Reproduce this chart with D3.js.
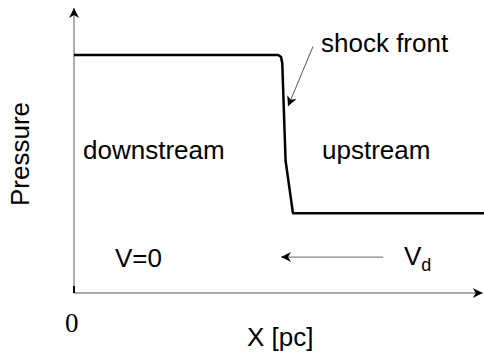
<!DOCTYPE html>
<html>
<head>
<meta charset="utf-8">
<script src="https://cdn.jsdelivr.net/npm/d3@7"></script>
<style>
  body { margin: 0; background: #fff; }
  text { font-family: "Liberation Sans", Arial, sans-serif; fill: #000; }
</style>
</head>
<body>
<div id="chart"></div>
<script>
// pressure profile across the shock (x in arbitrary pc units, p in arbitrary units)
const profileX = [0, 49.8, 50.5, 50.8, 51.6, 53.4, 100];
const profileP = [8.35, 8.35, 8.28, 8.05, 4.65, 2.8, 2.8];

const labels = ["shock front", "downstream", "upstream", "V=0", "X [pc]", "Pressure"];

const width = 484, height = 362;

const svg = d3.select("#chart")
    .append("svg")
    .attr("width", width)
    .attr("height", height);

const x = d3.scaleLinear().domain([0, 100]).range([74, 484]);
const y = d3.scaleLinear().domain([0, 10]).range([293, 8]);

const defs = svg.append("defs");
defs.append("marker")
    .attr("id", "head")
    .attr("viewBox", "-11 -6 12 12")
    .attr("refX", 0)
    .attr("refY", 0)
    .attr("markerUnits", "userSpaceOnUse")
    .attr("markerWidth", 12)
    .attr("markerHeight", 12)
    .attr("orient", "auto")
    .append("path")
    .attr("d", "M0,0 L-10,-5 L-7,0 L-10,5 Z")
    .attr("fill", "#000");

// axes
svg.append("line")
    .attr("x1", x(0)).attr("y1", y(0))
    .attr("x2", x(99.7)).attr("y2", y(0))
    .attr("stroke", "#555").attr("stroke-width", 1.2)
    .attr("marker-end", "url(#head)");

svg.append("line")
    .attr("x1", x(0)).attr("y1", y(0))
    .attr("x2", x(0)).attr("y2", y(10))
    .attr("stroke", "#777").attr("stroke-width", 1.2)
    .attr("marker-end", "url(#head)");

// little tick at origin
svg.append("line")
    .attr("x1", x(0)).attr("y1", y(0))
    .attr("x2", x(0)).attr("y2", y(0.25))
    .attr("stroke", "#000").attr("stroke-width", 2);

// pressure profile
const pts = profileX.map((d, i) => [d, profileP[i]]);
const line = d3.line()
    .x(d => x(d[0]))
    .y(d => y(d[1]));

svg.append("path")
    .datum(pts)
    .attr("d", line)
    .attr("fill", "none")
    .attr("stroke", "#000")
    .attr("stroke-width", 2.5)
    .attr("stroke-linejoin", "round");

// annotation arrows
svg.append("line")
    .attr("x1", x(58.3)).attr("y1", y(8.65))
    .attr("x2", x(52.2)).attr("y2", y(6.55))
    .attr("stroke", "#555").attr("stroke-width", 1)
    .attr("marker-end", "url(#head)");

svg.append("line")
    .attr("x1", x(75.4)).attr("y1", y(1.26))
    .attr("x2", x(50.5)).attr("y2", y(1.26))
    .attr("stroke", "#888").attr("stroke-width", 1.2)
    .attr("marker-end", "url(#head)");

// texts
const fs = 26;
svg.append("text").attr("x", 321).attr("y", 52).attr("font-size", fs).text(labels[0]);
svg.append("text").attr("x", 83).attr("y", 159).attr("font-size", fs).text(labels[1]);
svg.append("text").attr("x", 322).attr("y", 159).attr("font-size", fs).text(labels[2]);
svg.append("text").attr("x", 115).attr("y", 267).attr("font-size", fs).text(labels[3]);

const vd = svg.append("text").attr("x", 404).attr("y", 265).attr("font-size", fs);
vd.append("tspan").text("V");
vd.append("tspan").attr("dy", 6).attr("font-size", 18).text("d");

svg.append("text").attr("x", 247).attr("y", 346).attr("font-size", fs).text(labels[4]);

svg.append("text")
    .attr("x", 65).attr("y", 332)
    .attr("font-size", 27)
    .style("font-family", "'Liberation Serif', 'Times New Roman', serif")
    .text("0");

svg.append("text")
    .attr("transform", "translate(29,154) rotate(-90)")
    .attr("text-anchor", "middle")
    .attr("font-size", fs)
    .text(labels[5]);
</script>
</body>
</html>
